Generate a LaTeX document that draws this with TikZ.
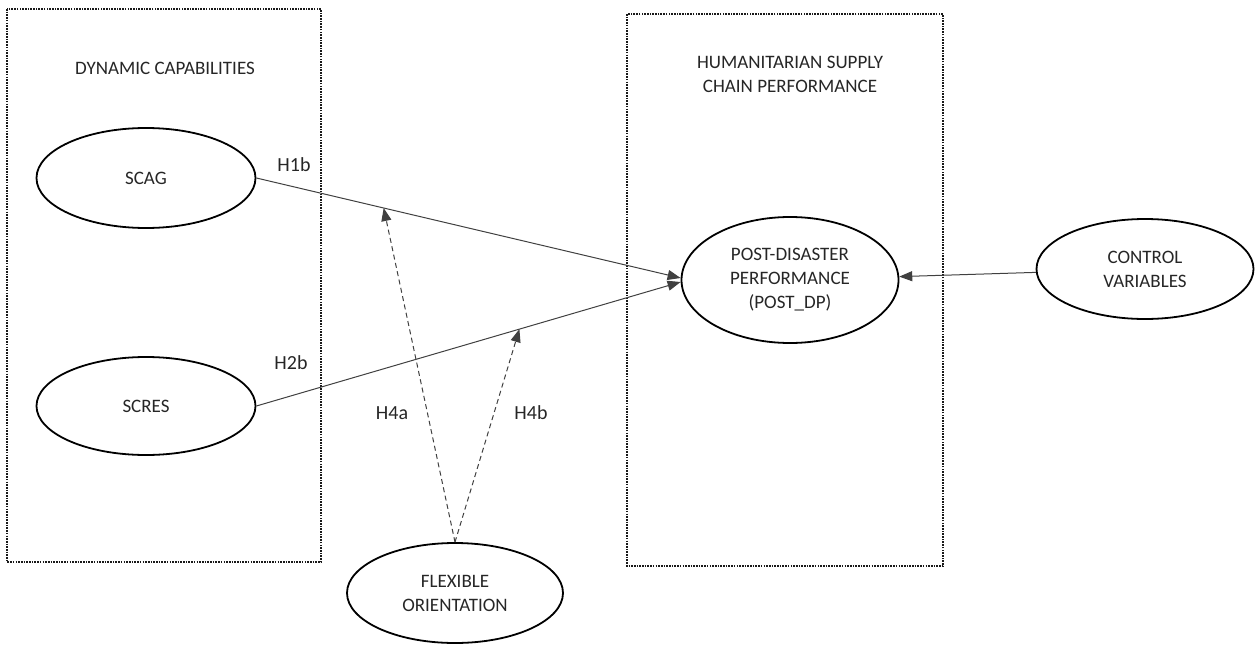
\documentclass[tikz,border=0pt]{standalone}
\usepackage{fontspec}
\setmainfont{Carlito}
\usetikzlibrary{shapes.geometric,arrows.meta}
\begin{document}
\begin{tikzpicture}[x=1pt,y=-1pt,
  every node/.style={font=\fontsize{19}{24}\selectfont, text=black!85},
  latent/.style={draw=black, line width=1.8pt, ellipse, inner sep=0pt, align=center},
  groupbox/.style={draw=black!90, line width=1.6pt, dash pattern=on 1.6pt off 1.1pt},
  path1/.style={draw=black!75, line width=1pt, -{Triangle[length=13pt,width=10pt]}},
  moder/.style={draw=black!75, line width=1pt, dash pattern=on 5pt off 3.5pt, -{Triangle[length=13pt,width=10pt]}},
  hlabel/.style={font=\fontsize{20}{24}\selectfont}]
\useasboundingbox (0,0) rectangle (1255,645);
% group boxes
\draw[groupbox] (7,9) rectangle (321,562);
\draw[groupbox] (627,14) rectangle (943,566);
\node (dyncap) at (165,68) {DYNAMIC CAPABILITIES};
\node[align=center] (hscp) at (790,74) {HUMANITARIAN SUPPLY\\CHAIN PERFORMANCE};
% constructs
\node[latent, minimum width=219pt, minimum height=100pt] (scag) at (146,178) {SCAG};
\node[latent, minimum width=219pt, minimum height=98pt] (scres) at (146,406) {SCRES};
\node[latent, minimum width=217pt, minimum height=126pt] (post) at (790,280) {POST-DISASTER\\PERFORMANCE\\(POST\_DP)};
\node[latent, minimum width=217pt, minimum height=100pt] (ctrl) at (1145,269) {CONTROL\\VARIABLES};
\node[latent, minimum width=216pt, minimum height=100pt] (flex) at (455,593) {FLEXIBLE\\ORIENTATION};
% direct paths
\coordinate (pw1) at ([yshift=2pt]post.west);
\coordinate (pw2) at ([yshift=-2pt]post.west);
\draw[path1] (scag.east) -- (pw1);
\draw[path1] (scres.east) -- (pw2);
\draw[path1] (ctrl) -- (post);
% moderation targets on the paths
\path (scag.east) -- (pw1) coordinate[pos=0.30] (m1);
\path (scres.east) -- (pw2) coordinate[pos=0.62] (m2);
\draw[moder] (flex.north) -- (m1);
\draw[moder] (flex.north) -- (m2);
% labels
\node[hlabel] (h1b) at (294,165) {H1b};
\node[hlabel] (h2b) at (291,363) {H2b};
\node[hlabel] (h4a) at (392,413) {H4a};
\node[hlabel] (h4b) at (531,413) {H4b};
\end{tikzpicture}
\end{document}
